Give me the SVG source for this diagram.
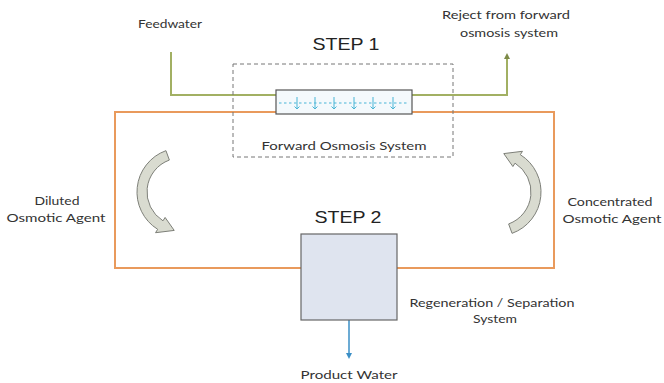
<svg xmlns="http://www.w3.org/2000/svg" xmlns:xlink="http://www.w3.org/1999/xlink" width="664" height="383" viewBox="0 0 664 383">
  <style>
    .lbl { font-family: Lato, "Open Sans", "Liberation Sans", sans-serif; font-size: 12px; fill: #333; text-anchor: middle; }
    .step { font-family: "Liberation Sans", Arial, sans-serif; font-size: 17px; fill: #222; text-anchor: middle; }
    .feed { fill: none; stroke: #a2b063; stroke-width: 2; }
    .loop { fill: none; stroke: #e99a5c; stroke-width: 2; }
    .prod { fill: none; stroke: #3b8fc6; stroke-width: 1.5; }
    .frame { fill: none; stroke: #777; stroke-width: 1; stroke-dasharray: 4 3; }
    .cycle { fill: #d9dbd0; stroke: #7d7f78; stroke-width: 1; }
  </style>
  <defs>
    <!-- curved flow arrow, drawn around its arc centre (0,0) -->
    <path id="curveArrow" d="M -15.05 -41.35 A 44 44 0 0 0 -23.32 37.31 L -25.44 40.71 L -6.77 38.41 L -15.9 25.44 L -18.02 28.83 A 34 34 0 0 1 -11.63 -31.95 Z"/>
    <marker id="tipGreen" markerWidth="6" markerHeight="6" refX="3" refY="3" orient="auto" markerUnits="userSpaceOnUse">
      <path d="M0 0 L6 3 L0 6 Z" fill="#7d8a48"/>
    </marker>
    <marker id="tipBlue" markerWidth="6" markerHeight="6" refX="3" refY="3" orient="auto" markerUnits="userSpaceOnUse">
      <path d="M0 0 L6 3 L0 6 Z" fill="#3b8fc6"/>
    </marker>
  </defs>

  <rect width="664" height="383" fill="#ffffff"/>

  <g id="connectors">
    <!-- feedwater in / reject out -->
    <path class="feed" d="M171 52 V95 H277"/>
    <path class="feed" d="M412 95 H507 V56" marker-end="url(#tipGreen)"/>
    <!-- osmotic agent loop -->
    <path class="loop" d="M277 112 H115 V268 H301"/>
    <path class="loop" d="M412 112 H554 V268 H397"/>
    <!-- product water -->
    <path class="prod" d="M349 320 V356" marker-end="url(#tipBlue)"/>
  </g>

  <g id="step1">
    <text class="step" x="346" y="50" textLength="67" lengthAdjust="spacingAndGlyphs">STEP 1</text>
    <rect class="frame" x="233" y="64" width="220" height="93"/>
    <text class="lbl" x="344" y="150" textLength="165" lengthAdjust="spacingAndGlyphs">Forward Osmosis System</text>
  </g>

  <g id="fo-module">
    <rect x="276" y="90" width="136" height="24" fill="#f4f9fc" stroke="#555" stroke-width="1.2"/>
    <line x1="279" y1="103" x2="409" y2="103" stroke="#49b5d6" stroke-width="1.2" stroke-dasharray="2.5 2.5"/>
    <g stroke="#49b5d6" stroke-width="1" fill="none">
      <path d="M297 97 V109 M294.5 106.5 L297 109 L299.5 106.5"/>
      <path d="M315 97 V109 M312.5 106.5 L315 109 L317.5 106.5"/>
      <path d="M334 97 V109 M331.5 106.5 L334 109 L336.5 106.5"/>
      <path d="M354 97 V109 M351.5 106.5 L354 109 L356.5 106.5"/>
      <path d="M373 97 V109 M370.5 106.5 L373 109 L375.5 106.5"/>
      <path d="M393 97 V109 M390.5 106.5 L393 109 L395.5 106.5"/>
    </g>
  </g>

  <g id="step2">
    <text class="step" x="348" y="223" textLength="67" lengthAdjust="spacingAndGlyphs">STEP 2</text>
    <rect x="301" y="234" width="96" height="86" fill="#dfe4ef" stroke="#666" stroke-width="1.2"/>
    <text class="lbl" x="492" y="307" textLength="165" lengthAdjust="spacingAndGlyphs">Regeneration / Separation</text>
    <text class="lbl" x="495" y="323" textLength="44" lengthAdjust="spacingAndGlyphs">System</text>
  </g>

  <g id="feedwater">
    <text class="lbl" x="170" y="28" textLength="64" lengthAdjust="spacingAndGlyphs">Feedwater</text>
  </g>

  <g id="reject">
    <text class="lbl" x="506" y="19" textLength="128" lengthAdjust="spacingAndGlyphs">Reject from forward</text>
    <text class="lbl" x="509" y="37" textLength="98" lengthAdjust="spacingAndGlyphs">osmosis system</text>
  </g>

  <g id="diluted">
    <use xlink:href="#curveArrow" class="cycle" transform="translate(181 192)"/>
    <text class="lbl" x="57" y="205" textLength="45" lengthAdjust="spacingAndGlyphs">Diluted</text>
    <text class="lbl" x="56" y="222" textLength="99" lengthAdjust="spacingAndGlyphs">Osmotic Agent</text>
  </g>

  <g id="concentrated">
    <use xlink:href="#curveArrow" class="cycle" transform="translate(497 192) rotate(180)"/>
    <text class="lbl" x="610" y="206" textLength="85" lengthAdjust="spacingAndGlyphs">Concentrated</text>
    <text class="lbl" x="612" y="223" textLength="99" lengthAdjust="spacingAndGlyphs">Osmotic Agent</text>
  </g>

  <g id="product">
    <text class="lbl" x="349" y="379" textLength="97" lengthAdjust="spacingAndGlyphs">Product Water</text>
  </g>
</svg>
